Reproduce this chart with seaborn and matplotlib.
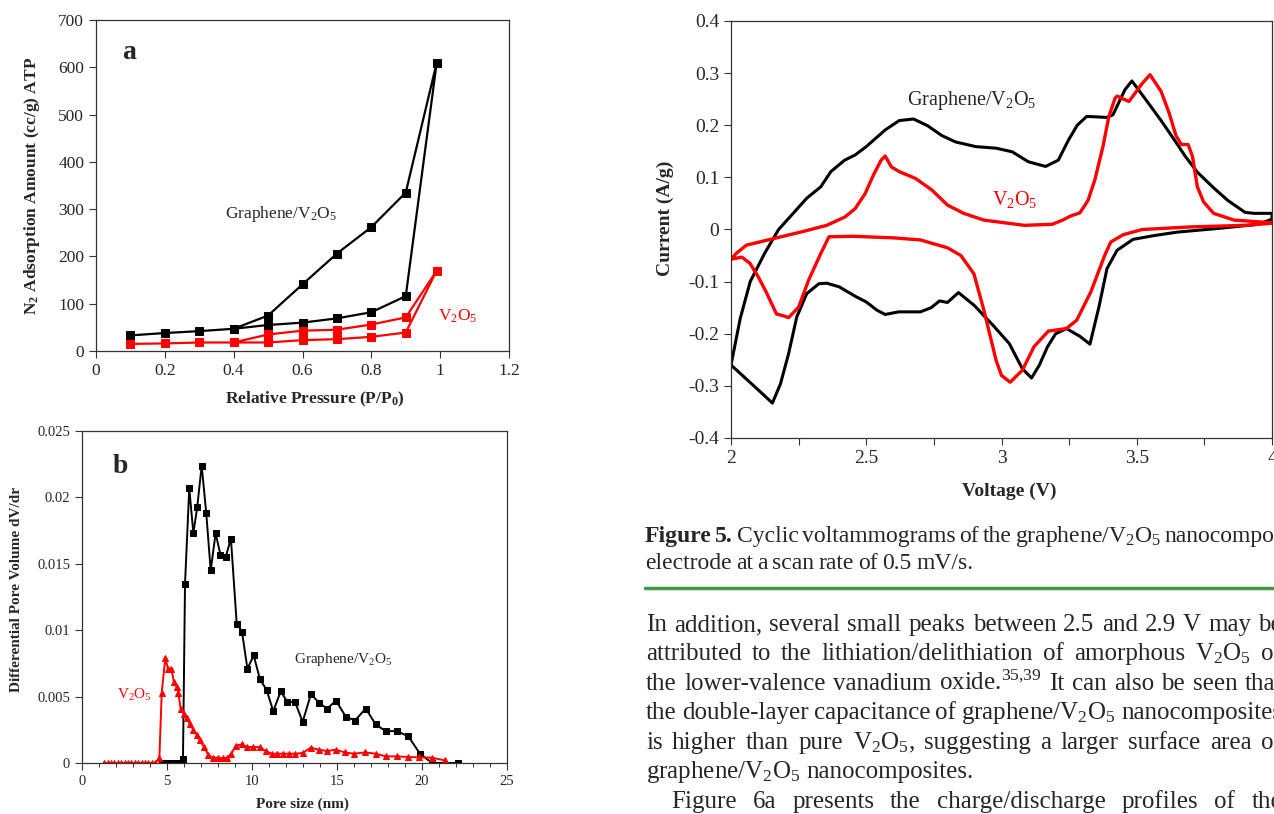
import matplotlib
matplotlib.use('Agg')
import matplotlib.pyplot as plt
import seaborn as sns
import pandas as pd
from matplotlib.lines import Line2D
from matplotlib.ticker import MultipleLocator, FuncFormatter

# --- panel a: N2 isotherms (adsorption then desorption) ---
p_ads = [0.1, 0.2, 0.3, 0.4, 0.5, 0.6, 0.7, 0.8, 0.9, 0.99]
p_des = [0.9, 0.8, 0.7, 0.6, 0.5, 0.4]
gv_ads = [33, 38, 42, 47, 55, 60, 69, 82, 116, 610]
gv_des = [335, 262, 206, 141, 75, 47]
v_ads = [15, 16, 18, 18, 18, 23, 25, 30, 39, 170]
v_des = [71, 56, 45, 43, 35, 18]

# --- panel b: pore size distribution ---
gv_pore = [4.7, 5.0, 5.2, 5.5, 5.7, 5.94, 6.06, 6.31, 6.55, 6.78, 7.04, 7.31, 7.57, 7.86,
           8.14, 8.45, 8.76, 9.1, 9.41, 9.73, 10.1, 10.47, 10.86, 11.25, 11.69, 12.08,
           12.53, 12.98, 13.47, 13.96, 14.43, 14.94, 15.51, 16.06, 16.69, 17.28, 17.86,
           18.53, 19.2, 19.88, 20.59, 22.14]
gv_dvdr = [0, 0, 0, 0, 0, 0.0003, 0.0135, 0.0207, 0.0173, 0.0193, 0.0224, 0.0188, 0.0145,
           0.0173, 0.0157, 0.0155, 0.0169, 0.0105, 0.0099, 0.0071, 0.0081, 0.0063, 0.0055,
           0.0039, 0.0054, 0.0046, 0.0046, 0.0031, 0.0052, 0.0045, 0.0041, 0.0047, 0.0035,
           0.0032, 0.0041, 0.0029, 0.0024, 0.0024, 0.0020, 0.0007, 0.0, 0.0]
v_pore = [1.3, 1.5, 1.7, 1.9, 2.1, 2.3, 2.5, 2.7, 2.9, 3.1, 3.3, 3.5, 3.7, 3.9, 4.1, 4.3,
          4.55, 4.69, 4.9, 5.06, 5.25, 5.41, 5.57, 5.67, 5.8, 6.0, 6.16, 6.35, 6.55, 6.75,
          6.94, 7.18, 7.43, 7.69, 7.98, 8.27, 8.55, 8.78, 9.04, 9.39, 9.73, 10.08, 10.47,
          10.8, 11.16, 11.49, 11.84, 12.2, 12.53, 12.98, 13.45, 13.94, 14.43, 14.92,
          15.45, 16.0, 16.65, 17.28, 17.88, 18.51, 19.18, 19.84, 20.57, 21.33]
v_dvdr = [0, 0, 0, 0, 0, 0, 0, 0, 0, 0, 0, 0, 0, 0, 0, 0,
          0.00035, 0.0053, 0.0079, 0.0071, 0.0071, 0.0061, 0.0057, 0.0053, 0.0041, 0.0037,
          0.0034, 0.0029, 0.0025, 0.0021, 0.0017, 0.0012, 0.0006, 0.0004, 0.0004, 0.00035,
          0.0004, 0.0007, 0.0013, 0.0014, 0.0012, 0.0012, 0.0012, 0.0009, 0.0007, 0.0007,
          0.0007, 0.0007, 0.0007, 0.00075, 0.00115, 0.001, 0.0009, 0.001, 0.0008, 0.0007,
          0.0008, 0.0007, 0.0005, 0.0005, 0.00045, 0.00043, 0.0004, 0.0002]

# --- Figure 5: cyclic voltammograms (closed loops) ---
cv_v_gv = [2.0, 2.057, 2.116, 2.153, 2.183, 2.213, 2.243, 2.28, 2.325, 2.354, 2.40, 2.459,
           2.50, 2.54, 2.57, 2.62, 2.70, 2.74, 2.771, 2.80, 2.841, 2.90, 2.969, 3.029,
           3.077, 3.111, 3.14, 3.17, 3.20, 3.24, 3.29, 3.327, 3.36, 3.39, 3.427, 3.486,
           3.56, 3.65, 3.80, 3.95, 4.0, 4.0,
           3.933, 3.90, 3.836, 3.784, 3.724, 3.68, 3.635, 3.59, 3.538, 3.482, 3.456,
           3.412, 3.39, 3.315, 3.28, 3.248, 3.21, 3.163, 3.099, 3.04, 2.98, 2.905, 2.83,
           2.78, 2.727, 2.675, 2.622, 2.570, 2.50, 2.459, 2.42, 2.369, 2.332, 2.28, 2.235,
           2.176, 2.124, 2.071, 2.034, 2.0]
cv_i_gv = [-0.26, -0.287, -0.315, -0.333, -0.296, -0.238, -0.168, -0.123, -0.104, -0.103,
           -0.11, -0.128, -0.139, -0.155, -0.163, -0.158, -0.158, -0.150, -0.137, -0.14,
           -0.121, -0.146, -0.184, -0.219, -0.267, -0.285, -0.26, -0.225, -0.20, -0.19,
           -0.205, -0.22, -0.149, -0.075, -0.04, -0.019, -0.012, -0.005, 0.002, 0.01,
           0.02, 0.031,
           0.031, 0.033, 0.056, 0.08, 0.11, 0.14, 0.175, 0.209, 0.246, 0.285, 0.268,
           0.22, 0.215, 0.217, 0.20, 0.172, 0.133, 0.121, 0.130, 0.149, 0.156, 0.159,
           0.168, 0.18, 0.199, 0.212, 0.209, 0.191, 0.159, 0.143, 0.133, 0.111, 0.082,
           0.06, 0.034, 0.0, -0.046, -0.10, -0.171, -0.26]
cv_v_v = [2.0, 2.04, 2.07, 2.101, 2.13, 2.168, 2.19, 2.213, 2.25, 2.287, 2.332, 2.362,
          2.45, 2.60, 2.70, 2.80, 2.85, 2.898, 2.935, 2.98, 3.00, 3.032, 3.077, 3.12,
          3.173, 3.24, 3.278, 3.33, 3.382, 3.404, 3.45, 3.52, 3.70, 3.90, 4.0, 4.0,
          3.86, 3.784, 3.747, 3.724, 3.706, 3.69, 3.665, 3.645, 3.62, 3.59, 3.549, 3.52,
          3.471, 3.427, 3.42, 3.397, 3.375, 3.345, 3.32, 3.29, 3.256, 3.226, 3.188, 3.084,
          2.935, 2.86, 2.80, 2.742, 2.682, 2.622, 2.593, 2.57, 2.555, 2.526, 2.496, 2.459,
          2.421, 2.354, 2.265, 2.161, 2.057, 2.019, 2.0]
cv_i_v = [-0.057, -0.053, -0.065, -0.091, -0.12, -0.162, -0.165, -0.169, -0.149, -0.097,
          -0.046, -0.014, -0.013, -0.016, -0.02, -0.035, -0.05, -0.085, -0.155, -0.251,
          -0.28, -0.293, -0.27, -0.225, -0.195, -0.19, -0.174, -0.12, -0.049, -0.024,
          -0.01, 0.0, 0.005, 0.008, 0.012, 0.013,
          0.018, 0.031, 0.053, 0.082, 0.14, 0.163, 0.163, 0.18, 0.223, 0.265, 0.297, 0.28,
          0.2455, 0.256, 0.252, 0.217, 0.159, 0.095, 0.056, 0.032, 0.026, 0.018, 0.01,
          0.008, 0.018, 0.031, 0.047, 0.076, 0.098, 0.111, 0.12, 0.141, 0.133, 0.104,
          0.069, 0.04, 0.024, 0.008, -0.004, -0.017, -0.03, -0.046, -0.057]

caption = ["Cyclic", "voltammograms", "of", "the", "graphene/V$_2$O$_5$", "nanocomposite"]
caption2 = "electrode at a scan rate of 0.5 mV/s."
body = [
    "In addition, several small peaks between 2.5 and 2.9 V may be",
    "attributed to the lithiation/delithiation of amorphous V$_2$O$_5$ or",
    "the lower-valence vanadium oxide.$^{35{,}39}$ It can also be seen that",
    "the double-layer capacitance of graphene/V$_2$O$_5$ nanocomposites",
    "is higher than pure V$_2$O$_5$, suggesting a larger surface area of",
    "graphene/V$_2$O$_5$ nanocomposites.",
    "Figure 6a presents the charge/discharge profiles of the",
]

sns.set_style('ticks')
plt.rcParams['font.family'] = ['Liberation Serif', 'DejaVu Serif']
plt.rcParams['mathtext.fontset'] = 'custom'
plt.rcParams['mathtext.rm'] = 'Liberation Serif'
plt.rcParams['mathtext.it'] = 'Liberation Serif:italic'
plt.rcParams['mathtext.bf'] = 'Liberation Serif:bold'
plt.rcParams['mathtext.default'] = 'rm'
plt.rcParams['axes.unicode_minus'] = False

W, H = 1274, 814
fig = plt.figure(figsize=(W / 100, H / 100), dpi=100)
BLACK, RED = 'black', '#ff0000'
EDGE = '#333333'
fmt = FuncFormatter(lambda v, _: f'{v:g}')


def frame(ax, size):
    for s in ax.spines.values():
        s.set_color(EDGE)
        s.set_linewidth(0.9)
    ax.tick_params(labelsize=size, direction='out', length=5, width=0.8, color=EDGE)
    ax.xaxis.set_major_formatter(fmt)
    ax.yaxis.set_major_formatter(fmt)


# panel a
ax1 = fig.add_axes([96 / W, 1 - 351 / H, 413 / W, 331 / H])
df_a = pd.DataFrame({'p': p_ads + p_des, 'gv': gv_ads + gv_des, 'v': v_ads + v_des})
sns.lineplot(data=df_a, x='p', y='gv', sort=False, estimator=None, color=BLACK, lw=1.6,
             marker='s', markersize=6, markeredgecolor=BLACK, ax=ax1)
sns.lineplot(data=df_a, x='p', y='v', sort=False, estimator=None, color=RED, lw=1.6,
             marker='s', markersize=6, markeredgecolor=RED, ax=ax1)
ax1.set_xlim(0, 1.2)
ax1.set_ylim(0, 700)
ax1.xaxis.set_major_locator(MultipleLocator(0.2))
ax1.yaxis.set_major_locator(MultipleLocator(100))
frame(ax1, 12.5)
ax1.set_xlabel(r'Relative Pressure (P/P$_\mathbf{0}$)', fontsize=12.5, fontweight='bold')
ax1.set_ylabel(r'N$_\mathbf{2}$ Adsorption Amount (cc/g) ATP', fontsize=12.5,
               fontweight='bold')
ax1.xaxis.set_label_coords(0.53, -0.116)
ax1.yaxis.set_label_coords(-0.131, 0.5)
ax1.text(0.375, 290, 'Graphene/V$_2$O$_5$', fontsize=12.5, va='center')
ax1.text(0.995, 74, 'V$_2$O$_5$', fontsize=12.5, color=RED, va='center')
ax1.text(0.075, 632, 'a', fontsize=20, fontweight='bold', va='center')

# panel b
ax2 = fig.add_axes([82 / W, 1 - 763 / H, 425 / W, 332 / H])
df_gv = pd.DataFrame({'r': gv_pore, 'dv': gv_dvdr})
df_v = pd.DataFrame({'r': v_pore, 'dv': v_dvdr})
sns.lineplot(data=df_gv, x='r', y='dv', sort=False, estimator=None, color=BLACK, lw=1.4,
             marker='s', markersize=4.5, markeredgecolor=BLACK, ax=ax2)
sns.lineplot(data=df_v, x='r', y='dv', sort=False, estimator=None, color=RED, lw=1.4,
             marker='^', markersize=5, markeredgecolor=RED, ax=ax2)
ax2.set_xlim(0, 25)
ax2.set_ylim(0, 0.025)
ax2.xaxis.set_major_locator(MultipleLocator(5))
ax2.xaxis.set_minor_locator(MultipleLocator(1))
ax2.yaxis.set_major_locator(MultipleLocator(0.005))
frame(ax2, 10.5)
ax2.tick_params(axis='x', which='minor', direction='out', length=3, width=0.7, color=EDGE)
ax2.set_xlabel('Pore size (nm)', fontsize=11, fontweight='bold')
ax2.set_ylabel('Differential Pore Volume dV/dr', fontsize=11, fontweight='bold')
ax2.xaxis.set_label_coords(0.518, -0.105)
ax2.yaxis.set_label_coords(-0.139, 0.524)
ax2.text(12.5, 0.0078, 'Graphene/V$_2$O$_5$', fontsize=11, va='center')
ax2.text(2.06, 0.0051, 'V$_2$O$_5$', fontsize=11, color=RED, va='center')
ax2.text(1.8, 0.0223, 'b', fontsize=20, fontweight='bold', va='center')

# Figure 5 CV
ax3 = fig.add_axes([731 / W, 1 - 438 / H, 541 / W, 417 / H])
df_cg = pd.DataFrame({'V': cv_v_gv, 'I': cv_i_gv})
df_cv = pd.DataFrame({'V': cv_v_v, 'I': cv_i_v})
sns.lineplot(data=df_cg, x='V', y='I', sort=False, estimator=None, color=BLACK, lw=2.2, ax=ax3)
sns.lineplot(data=df_cv, x='V', y='I', sort=False, estimator=None, color=RED, lw=2.4, ax=ax3)
ax3.set_xlim(2, 4)
ax3.set_ylim(-0.4, 0.4)
ax3.xaxis.set_major_locator(MultipleLocator(0.5))
ax3.xaxis.set_minor_locator(MultipleLocator(0.25))
ax3.yaxis.set_major_locator(MultipleLocator(0.1))
frame(ax3, 14)
ax3.tick_params(axis='x', which='minor', direction='out', length=5, width=0.8, color=EDGE)
ax3.set_xlabel('Voltage (V)', fontsize=14, fontweight='bold')
ax3.set_ylabel('Current (A/g)', fontsize=14, fontweight='bold')
ax3.xaxis.set_label_coords(0.514, -0.108)
ax3.yaxis.set_label_coords(-0.105, 0.528)
ax3.text(2.65, 0.248, 'Graphene/V$_2$O$_5$', fontsize=14.5, va='center')
ax3.text(2.965, 0.057, 'V$_2$O$_5$', fontsize=14.5, color=RED, va='center')

# caption and body text (justified by hand)
renderer = fig.canvas.get_renderer()


def put_words(words, base_y, x0, x1=None, size=18, gap0=None, weights=None):
    objs = []
    for i, w in enumerate(words):
        wt = weights[i] if weights else 'normal'
        objs.append(fig.text(0, 1 - base_y / H, w, fontsize=size, fontweight=wt,
                             va='baseline', ha='left'))
    widths = [o.get_window_extent(renderer).width for o in objs]
    if x1 is None:
        gap = gap0
    else:
        gap = (x1 - x0 - sum(widths)) / (len(words) - 1)
    x = x0
    for o, w in zip(objs, widths):
        o.set_x(x / W)
        x += w + gap


put_words(['Figure', '5.'] + caption, 542, 645, gap0=3.6, size=17,
          weights=['bold', 'bold'] + ['normal'] * len(caption))
put_words(caption2.split(' '), 569, 645, gap0=4.4, size=17)
fig.add_artist(Line2D([645 / W, 1], [1 - 588 / H] * 2, color='#3c9a45', lw=2.5,
                      transform=fig.transFigure))
base = [631, 660, 690, 719, 749, 778, 808]
for k, line in enumerate(body):
    words = line.split(' ')
    if k == 5:
        put_words(words, base[k], 646, gap0=5.5)
    elif k == 6:
        put_words(words, base[k], 671, x1=1282)
    else:
        put_words(words, base[k], 646, x1=1282)

fig.savefig('out.png', dpi=100)
